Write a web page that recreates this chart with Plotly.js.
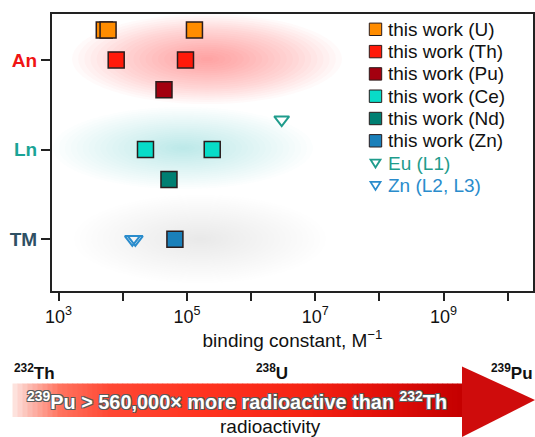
<!DOCTYPE html>
<html>
<head>
<meta charset="utf-8">
<script src="https://cdn.plot.ly/plotly-3.0.1.min.js"></script>
<style>html,body{margin:0;padding:0;background:#fff;}#chart{width:535px;height:437px;}</style>
</head>
<body>
<div id="chart"></div>
<script>
// ---------------- DATA ----------------
const seriesNames  = ['this work (U)', 'this work (Th)', 'this work (Pu)', 'this work (Ce)', 'this work (Nd)', 'this work (Zn)', 'Eu (L1)', 'Zn (L2, L3)'];
const seriesColors = ['#ff8c00', '#ff1a0a', '#a3000f', '#08dcc8', '#007f72', '#1a80ba', '#1f9c8c', '#2a8ccc'];
const seriesSymbols = ['square', 'square', 'square', 'square', 'square', 'square', 'triangle-down-open', 'triangle-down-open'];
// binding constants (M^-1)
const valuesU  = [5150, 5900, 131000];
const valuesTh = [7900, 95000];
const valuesPu = [43900];
const valuesCe = [22600, 248000];
const valuesNd = [52500];
const valuesZn = [65000];
const valuesEuL1 = [3.0e6];
const valuesZnL23 = [14100, 15700];
const seriesValues = [valuesU, valuesTh, valuesPu, valuesCe, valuesNd, valuesZn, valuesEuL1, valuesZnL23];
// row of each series on the vertical axis
const seriesRows = [7, 6, 5, 3, 2, 0, 4, 0];
// category labels
const categoryLabels = ['An', 'Ln', 'TM'];
const categoryRows   = [6, 3, 0];
const categoryColors = ['#f01414', '#1aa496', '#2e5064'];
// x tick decades
const labelledExponents = [3, 5, 7, 9];
const minorExponents = [4, 6, 8, 10];

// ---------------- LAYOUT HELPERS ----------------
const W = 535, H = 437;
const M = {l: 52, r: 2, t: 14, b: 146};
const PW = W - M.l - M.r, PH = H - M.t - M.b;
const px = v => (v - M.l) / PW;
const py = v => (H - M.b - v) / PH;
const FONT = 'Liberation Sans, Arial, Helvetica, sans-serif';

const traces = seriesNames.map((name, i) => {
  const isOpen = seriesSymbols[i].indexOf('open') >= 0;
  return {
    type: 'scatter', mode: 'markers', name: name, showlegend: false,
    x: seriesValues[i], y: seriesValues[i].map(() => seriesRows[i]),
    marker: isOpen
      ? {symbol: seriesSymbols[i], size: 13, color: seriesColors[i], line: {width: 2, color: seriesColors[i]}}
      : {symbol: seriesSymbols[i], size: 16, color: seriesColors[i], line: {width: 1.5, color: '#2a1c1c'}},
    hoverinfo: 'x+name'
  };
});

const shapes = [];
// soft glow bands behind each category group
const glows = [
  {cx: 207, cy: 59, rx: 135, ry: 45, rgb: '255,90,90', peak: 0.45},
  {cx: 183, cy: 148, rx: 130, ry: 41, rgb: '60,180,170', peak: 0.30},
  {cx: 200, cy: 239, rx: 126, ry: 44, rgb: '128,132,138', peak: 0.25}
];
const NL = 22;
glows.forEach(g => {
  const a = 1 - Math.pow(1 - g.peak, 1 / NL);
  for (let k = NL; k >= 1; k--) {
    const f = k / NL;
    shapes.push({type: 'circle', xref: 'paper', yref: 'paper', layer: 'below',
      x0: px(g.cx - g.rx * f), x1: px(g.cx + g.rx * f),
      y0: py(g.cy + g.ry * f), y1: py(g.cy - g.ry * f),
      fillcolor: 'rgba(' + g.rgb + ',' + a.toFixed(4) + ')', line: {width: 0}});
  }
});

// arrow body gradient
const stops = [
  [12, [253, 234, 230]], [30, [252, 185, 175]], [60, [255, 115, 95]], [110, [255, 72, 52]],
  [200, [255, 52, 32]], [300, [246, 36, 20]], [380, [226, 16, 10]], [462, [196, 0, 0]]
];
function colAt(x) {
  for (let i = 0; i < stops.length - 1; i++) {
    const [x0, c0] = stops[i], [x1, c1] = stops[i + 1];
    if (x >= x0 && x <= x1) {
      const t = (x - x0) / (x1 - x0);
      return 'rgb(' + c0.map((c, j) => Math.round(c + (c1[j] - c) * t)).join(',') + ')';
    }
  }
  return 'rgb(196,0,0)';
}
const bx0 = 12.5, bx1 = 462.5, by0 = 383.5, by1 = 417;
const NS = 90;
for (let i = 0; i < NS; i++) {
  const a = bx0 + (bx1 - bx0) * i / NS, b = bx0 + (bx1 - bx0) * (i + 1) / NS;
  shapes.push({type: 'rect', xref: 'paper', yref: 'paper', layer: 'above',
    x0: px(a), x1: px(b + 0.6), y0: py(by1), y1: py(by0),
    fillcolor: colAt((a + b) / 2), line: {width: 0}});
}
// arrow head
shapes.push({type: 'path', xref: 'paper', yref: 'paper', layer: 'above',
  path: 'M ' + px(462) + ' ' + py(366.5) + ' L ' + px(535) + ' ' + py(400) + ' L ' + px(462) + ' ' + py(437) + ' Z',
  fillcolor: '#cf0c0c', line: {width: 0}});

// manual legend swatches
const legX = 375.5, legY0 = 29.3, legDY = 22.3;
seriesNames.forEach((n, i) => {
  const cy = legY0 + i * legDY;
  if (seriesSymbols[i] === 'square') {
    shapes.push({type: 'rect', xref: 'paper', yref: 'paper',
      x0: px(legX - 6.2), x1: px(legX + 6.2), y0: py(cy + 6.2), y1: py(cy - 6.2),
      fillcolor: seriesColors[i], line: {width: 1, color: '#2a1c1c'}});
  } else {
    shapes.push({type: 'path', xref: 'paper', yref: 'paper',
      path: 'M ' + px(legX - 5) + ' ' + py(cy - 3.5) + ' L ' + px(legX + 5) + ' ' + py(cy - 3.5) + ' L ' + px(legX) + ' ' + py(cy + 4.5) + ' Z',
      fillcolor: 'rgba(0,0,0,0)', line: {width: 1.8, color: seriesColors[i]}});
  }
});

const annotations = [];
seriesNames.forEach((n, i) => {
  annotations.push({xref: 'paper', yref: 'paper', x: px(386), y: py(legY0 + i * legDY),
    xanchor: 'left', yanchor: 'middle', showarrow: false, text: n,
    font: {family: FONT, size: 19, color: seriesSymbols[i] === 'square' ? '#111' : seriesColors[i]}});
});
const bold = {family: FONT, size: 17, color: '#111', weight: 'bold'};
annotations.push({xref: 'paper', yref: 'paper', x: px(12), y: py(372), xanchor: 'left', yanchor: 'middle', showarrow: false,
  text: '<sup>232</sup>Th', font: bold});
annotations.push({xref: 'paper', yref: 'paper', x: px(272), y: py(372), xanchor: 'center', yanchor: 'middle', showarrow: false,
  text: '<sup>238</sup>U', font: bold});
annotations.push({xref: 'paper', yref: 'paper', x: px(535), y: py(372), xanchor: 'right', yanchor: 'middle', showarrow: false,
  text: '<sup>239</sup>Pu', font: bold});
annotations.push({xref: 'paper', yref: 'paper', x: px(236.5), y: py(400), xanchor: 'center', yanchor: 'middle', showarrow: false,
  text: '<sup>239</sup>Pu > 560,000× more radioactive than <sup>232</sup>Th',
  font: {family: FONT, size: 19.9, color: '#ffffff', weight: 'bold',
    shadow: '1px 1px 0 #5a5a5a, -1px -1px 0 #5a5a5a, 1px -1px 0 #5a5a5a, -1px 1px 0 #5a5a5a'}});
annotations.push({xref: 'paper', yref: 'paper', x: px(270), y: py(426.5), xanchor: 'center', yanchor: 'middle', showarrow: false,
  text: 'radioactivity', font: {family: FONT, size: 19, color: '#111'}});

const layout = {
  width: W, height: H,
  margin: M,
  paper_bgcolor: '#ffffff', plot_bgcolor: 'rgba(0,0,0,0)',
  showlegend: false,
  font: {family: FONT, color: '#111'},
  xaxis: {
    type: 'log', range: [2.897, 10.394],
    tickvals: labelledExponents.map(e => Math.pow(10, e)),
    ticktext: labelledExponents.map(e => '10<sup>' + e + '</sup>'),
    ticks: 'outside', ticklen: 8, tickwidth: 2, tickcolor: '#222',
    minor: {tickvals: minorExponents.map(e => Math.pow(10, e)), ticks: 'outside', ticklen: 8, tickwidth: 2, tickcolor: '#222', showgrid: false},
    showline: true, linewidth: 2, linecolor: '#222', mirror: true,
    showgrid: false, zeroline: false,
    tickfont: {family: FONT, size: 18, color: '#111'},
    title: {text: 'binding constant, M<sup>−1</sup>', font: {family: FONT, size: 19, color: '#111'}, standoff: 4}
  },
  yaxis: {
    range: [-1.73, 7.535],
    tickvals: categoryRows,
    ticktext: categoryLabels.map((c, i) => '<span style="color:' + categoryColors[i] + '">' + c + '</span>'),
    ticks: 'outside', ticklen: 9, tickwidth: 2, tickcolor: '#222',
    showline: true, linewidth: 2, linecolor: '#222', mirror: true,
    showgrid: false, zeroline: false,
    tickfont: {family: FONT, size: 19, weight: 'bold'}
  },
  shapes: shapes,
  annotations: annotations
};

Plotly.newPlot('chart', traces, layout, {displayModeBar: false, staticPlot: true});
</script>
</body>
</html>
